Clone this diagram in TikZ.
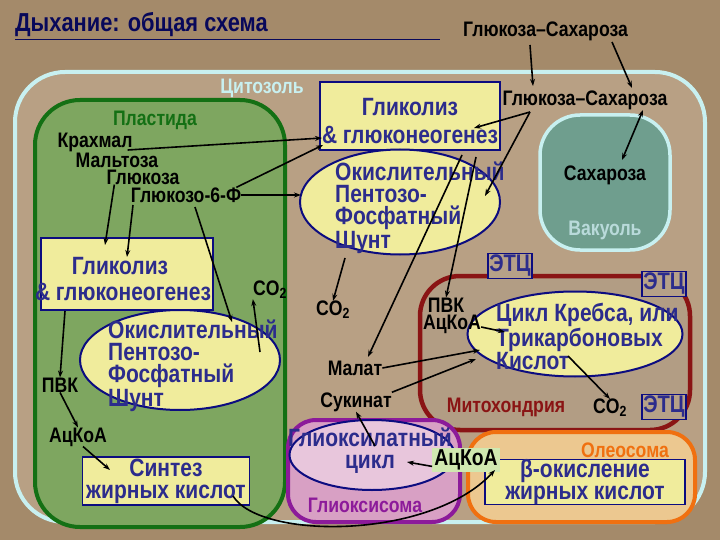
\documentclass[tikz,border=0pt]{standalone}
\usepackage{fontspec}
\setmainfont{Liberation Sans}[FakeStretch=0.84]
\usetikzlibrary{arrows.meta,shapes.geometric}
\definecolor{bg}{HTML}{A48A6A}
\definecolor{cyto}{HTML}{B8A084}
\definecolor{plast}{HTML}{7EA660}
\definecolor{pgreen}{HTML}{147014}
\definecolor{vac}{HTML}{6F9E8E}
\definecolor{vacb}{HTML}{C8F0F0}
\definecolor{ylw}{HTML}{F0EC9C}
\definecolor{navy}{HTML}{0C0C80}
\definecolor{tblue}{HTML}{2C2C8C}
\definecolor{mitob}{HTML}{8A1414}
\definecolor{glyf}{HTML}{D8A0C4}
\definecolor{glyb}{HTML}{8C1A9A}
\definecolor{olef}{HTML}{ECC890}
\definecolor{oleb}{HTML}{F07010}
\definecolor{acg}{HTML}{D0E8B0}
\tikzset{
 x=1pt,y=-1pt,
 bl/.style={font=\fontsize{21}{21}\selectfont\bfseries,text=black,inner sep=0pt},
 bt/.style={font=\fontsize{25}{22}\selectfont\bfseries,text=tblue,inner sep=0pt,align=left},
 lab/.style={font=\fontsize{21}{21}\selectfont\bfseries,inner sep=0pt},
 ybox/.style={draw=navy,line width=1.5pt,fill=ylw,inner sep=0pt},
 yell/.style={draw=navy,line width=2pt,fill=ylw,ellipse,inner sep=0pt},
 etc/.style={draw=navy,line width=1.5pt,fill=bg!80!white,font=\fontsize{24}{24}\selectfont\bfseries,text=tblue,inner sep=1.5pt},
 arr/.style={-{Stealth[length=7pt,width=5pt]},line width=1.6pt,black},
}
\begin{document}
\begin{tikzpicture}
\fill[bg] (0,0) rectangle (720,540);
\useasboundingbox (0,0) rectangle (720,540);
% title
\node[anchor=west,font=\fontsize{26}{26}\selectfont\bfseries,text=navy!70!black,inner sep=0pt] (title) at (15,25) {Дыхание: общая схема};
\draw[line width=1pt,navy!70!black] (15,40) -- (440,40);
\node[bl,anchor=west] (topgs) at (463,31) {Глюкоза–Сахароза};
% cytosol
\draw[vacb,line width=4pt,fill=cyto,rounded corners=50pt] (15,72) rectangle (705,522);
\node[lab,text=vacb] (cytl) at (262,88) {Цитозоль};
% plastid
\draw[pgreen,line width=4pt,fill=plast,rounded corners=45pt] (35,100) rectangle (285,527);
\node[lab,text=pgreen] (plastl) at (155,120) {Пластида};
\node[bl] (krah) at (95,142) {Крахмал};
\node[bl] (malt) at (117,160) {Мальтоза};
\node[bl] (gluk) at (143,177) {Глюкоза};
\node[bl] (g6f) at (186,195) {Глюкозо-6-Ф};
\node[ybox,minimum width=172,minimum height=72] (pgl) at (127,274) {};
\node[bt] at (120,266) {Гликолиз};
\node[bt] at (123,292) {\& глюконеогенез};
\node[bl] (pco2) at (270,290) {CO\textsubscript{2}};
\node[yell,minimum width=200,minimum height=100] (ppfs) at (180,360) {};
\node[bt,anchor=north west] at (108,320) {Окислительный\\Пентозо-\\Фосфатный\\Шунт};
\node[bl] (ppvk) at (60,385) {ПВК};
\node[bl] (packoa) at (78,437) {АцКоА};
\node[ybox,minimum width=167,minimum height=48] (synt) at (166,481) {};
\node[bt,align=center] at (166,481) {Синтез\\жирных кислот};
% cytosol glycolysis
\node[ybox,minimum width=180,minimum height=68] (cgl) at (410,116) {};
\node[bt] at (410,107) {Гликолиз};
\node[bt] at (410,135) {\& глюконеогенез};
\node[yell,minimum width=200,minimum height=105] (cpfs) at (400,202) {};
\node[bt,anchor=north west] at (335,162) {Окислительный\\Пентозо-\\Фосфатный\\Шунт};
\node[bl] (cgs) at (585,100) {Глюкоза–Сахароза};
% vacuole
\draw[vacb,line width=3.5pt,fill=vac,rounded corners=40pt] (540,115) rectangle (670,250);
\node[bl] (vsah) at (605,175) {Сахароза};
\node[lab,text=vacb!80!gray] (vacl) at (605,230) {Вакуоль};
% mitochondrion
\draw[mitob,line width=4.5pt,fill=cyto!90!gray,rounded corners=40pt] (420,276) rectangle (690,430);
\node[etc] (etc1) at (510,266) {ЭТЦ};
\node[etc] (etc2) at (664,284) {ЭТЦ};
\node[yell,minimum width=215,minimum height=85] (krebs) at (575,334) {};
\node[bt,anchor=north west] at (496,303) {Цикл Кребса, или\\Трикарбоновых\\Кислот};
\node[bl] (mpvk) at (446,305) {ПВК};
\node[bl] (mackoa) at (452,324) {АцКоА};
\node[lab,text=mitob] (mitol) at (506,407) {Митохондрия};
\node[bl] (mco2) at (610,408) {CO\textsubscript{2}};
\node[etc] (etc3) at (664,407) {ЭТЦ};
% cytosol labels
\node[bl] (cco2) at (333,310) {CO\textsubscript{2}};
\node[bl] (malat) at (355,368) {Малат};
\node[bl] (sukc) at (356,402) {Сукинат};
% glyoxysome
\draw[glyb,line width=4pt,fill=glyf,rounded corners=28pt] (288,420) rectangle (460,522);
\node[draw=navy,line width=2pt,fill=glyf!60!white,ellipse,minimum width=165,minimum height=70] (glyc) at (372,455) {};
\node[bt,align=center] at (370,451) {Глиоксилатный\\цикл};
\node[lab,text=glyb] (glyl) at (365,505) {Глиоксисома};
% oleosome
\draw[oleb,line width=4pt,fill=olef,rounded corners=28pt] (468,432) rectangle (695,522);
\node[lab,text=oleb] (olel) at (625,450) {Олеосома};
\node[ybox,minimum width=200,minimum height=45] (boxi) at (585,482) {};
\node[bt,align=center] at (585,482) {β-окисление\\жирных кислот};
\node[fill=acg,font=\fontsize{23}{23}\selectfont\bfseries,text=black,inner sep=2pt] (gackoa) at (466,460) {АцКоА};
% coordinates
\coordinate (t1) at (530,45); \coordinate (t2) at (612,42);
\coordinate (g6a) at (133,205); \coordinate (g6b) at (195,207);
\coordinate (cgb1) at (462,155); \coordinate (cgb2) at (476,157);
% arrows
\draw[arr] (krah.east) ++(-5,8) -- (322,138);
\draw[arr] (g6f.north east) ++(-5,0) -- (323,145);
\draw[arr] (g6f.east) -- (301,195);
\draw[arr] (gluk.south west) ++(8,0) -- (105,245);
\draw[arr] (g6a) -- (127,257);
\draw[arr] (g6b) -- (232,322);
\draw[arr] (260,352) -- (pco2.south west) ;
\draw[arr] (65,311) -- (ppvk.north);
\draw[arr] (ppvk.south) -- (packoa.north);
\draw[arr] (packoa.south) ++(5,0) -- (110,470);
\draw[arr] (233,496) .. controls (260,540) and (430,540) .. (495,470);
\draw[arr] (t1) -- (533,86);
\draw[arr] (t2) -- (632,88);
\draw[arr] (530,112) -- (474,128);
\draw[arr] (530,112) -- (485,196);
\draw[arr,{Stealth[length=7pt,width=5pt]}-{Stealth[length=7pt,width=5pt]}] (643,110) -- (622,160);
\draw[arr] (cgb1) -- (368,357);
\draw[arr] (cgb2) -- (mpvk.north);
\draw[arr] (345,258) -- (cco2.north);
\draw[arr] (mackoa.east) ++(0,3) -- (505,332);
\draw[arr] (malat.east) -- (480,350);
\draw[arr] (sukc.north east) -- (476,359);
\draw[arr] (568,356) -- (mco2.north);
\draw[arr] (375,446) -- (sukc.south);
\draw[arr] (gackoa.south west) ++(0,-6) -- (407,462);
\end{tikzpicture}
\end{document}
